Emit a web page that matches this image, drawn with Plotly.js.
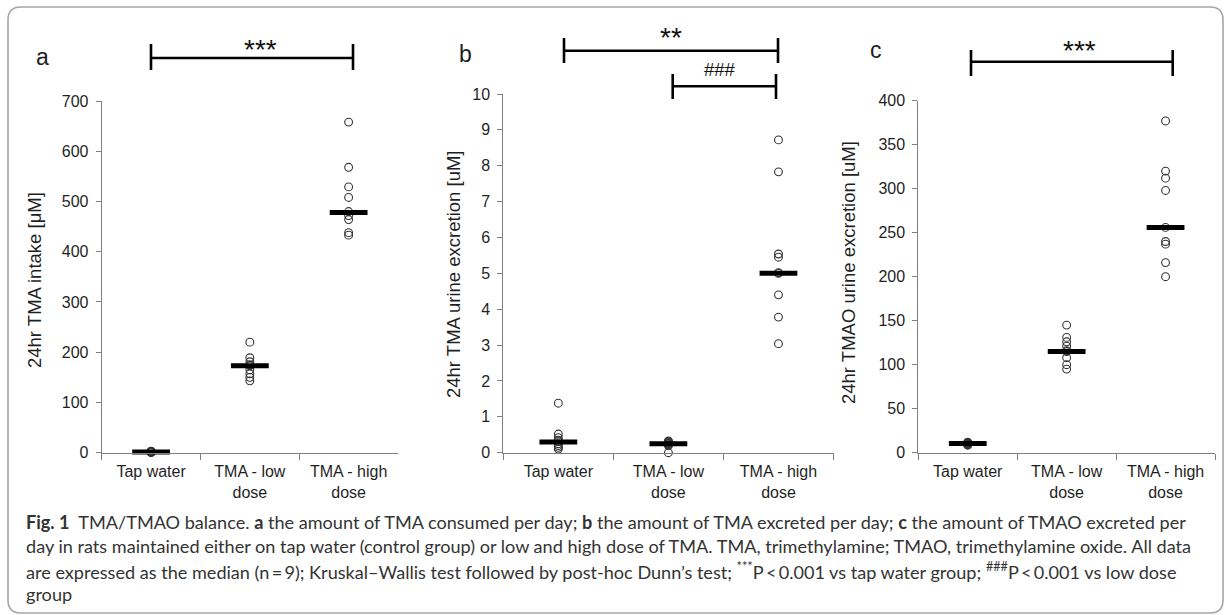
<!DOCTYPE html>
<html><head><meta charset="utf-8">
<script src="https://cdn.plot.ly/plotly-3.0.1.min.js"></script>
<style>html,body{margin:0;padding:0;background:#fff}#chart{width:1226px;height:615px}</style>
</head><body><div id="chart"></div>
<script>
// ---- data ----
const categories = ['Tap water', 'TMA - low dose', 'TMA - high dose'];
const tickLabels = ['Tap water', 'TMA - low<br>dose', 'TMA - high<br>dose'];

// panel a: 24hr TMA intake [µM]
const intakeTap  = [0.5, 0.8, 1, 1.2, 1.5, 1.8, 2, 2.5, 3];
const intakeLow  = [220, 189, 181, 175, 173, 165, 157, 150, 143];
const intakeHigh = [658, 568, 529, 508, 480, 472, 464, 438, 433];
const intakeMedian = [1.5, 173, 478];

// panel b: 24hr TMA urine excretion [uM]
const tmaUrineTap  = [1.38, 0.52, 0.42, 0.35, 0.31, 0.25, 0.2, 0.15, 0.1];
const tmaUrineLow  = [0.33, 0.31, 0.3, 0.28, 0.26, 0.25, 0.22, 0.2, 0.0];
const tmaUrineHigh = [8.72, 7.83, 5.54, 5.45, 5.02, 5.0, 4.4, 3.78, 3.04];
const tmaUrineMedian = [0.3, 0.25, 5.0];

// panel c: 24hr TMAO urine excretion [uM]
const tmaoUrineTap  = [12, 11.5, 11, 10.5, 10, 10, 9.5, 9, 8.5];
const tmaoUrineLow  = [145, 131, 126, 121, 116, 115, 108, 100, 95];
const tmaoUrineHigh = [377, 320, 312, 298, 256, 240, 237, 216, 200];
const tmaoUrineMedian = [10.5, 115, 256];

const panelLetters = ['a', 'b', 'c'];
const yTitles = ['24hr TMA intake [\u03bcM]', '24hr TMA urine excretion [uM]', '24hr TMAO urine excretion [uM]'];
const yRanges = [[0, 700], [0, 10], [0, 400]];
const yDticks = [100, 1, 50];

const captionLines = [
  '<b>Fig. 1</b>  TMA/TMAO balance. <b>a</b> the amount of TMA consumed per day; <b>b</b> the amount of TMA excreted per day; <b>c</b> the amount of TMAO excreted per',
  'day in rats maintained either on tap water (control group) or low and high dose of TMA. TMA, trimethylamine; TMAO, trimethylamine oxide. All data',
  'are expressed as the median (n\u2009=\u20099); Kruskal\u2013Wallis test followed by post-hoc Dunn\u2019s test; <sup>***</sup>P\u2009<\u20090.001 vs tap water group; <sup>###</sup>P\u2009<\u20090.001 vs low dose',
  'group'
];

// ---- layout helpers ----
const W = 1226, H = 615;
const px = v => v / W;
const py = v => 1 - v / H;

const AX = '#808080';
const TXT = '#1f1f1f';
const FONT = 'Liberation Sans, Arial, sans-serif';

const panels = [
  {groups: [intakeTap, intakeLow, intakeHigh], med: intakeMedian, xd: [101.7, 398], yd: [452.7, 101]},
  {groups: [tmaUrineTap, tmaUrineLow, tmaUrineHigh], med: tmaUrineMedian, xd: [503.3, 833.5], yd: [452.7, 94]},
  {groups: [tmaoUrineTap, tmaoUrineLow, tmaoUrineHigh], med: tmaoUrineMedian, xd: [918.3, 1215], yd: [452.7, 100.7]}
];

const traces = [];
const layout = {
  width: W, height: H, margin: {l: 0, r: 0, t: 0, b: 0},
  paper_bgcolor: '#fff', plot_bgcolor: 'rgba(0,0,0,0)',
  showlegend: false, font: {family: FONT, color: TXT},
  shapes: [], annotations: []
};

panels.forEach((p, i) => {
  const n = i === 0 ? '' : String(i + 1);
  const xa = 'x' + n, ya = 'y' + n;
  // points
  p.groups.forEach((vals, g) => {
    traces.push({
      type: 'scatter', mode: 'markers', xaxis: xa, yaxis: ya, cliponaxis: false,
      x: vals.map(() => categories[g]), y: vals,
      marker: {symbol: 'circle-open', size: 7.8, color: '#333', line: {width: 1.1, color: '#333'}},
      hoverinfo: 'y'
    });
  });
  // medians
  traces.push({
    type: 'scatter', mode: 'markers', xaxis: xa, yaxis: ya, cliponaxis: false,
    x: categories, y: p.med,
    marker: {symbol: 'line-ew', size: 27, color: '#000', line: {width: 5, color: '#000'}},
    hoverinfo: 'y'
  });
  layout['xaxis' + n] = {
    domain: [px(p.xd[0]), px(p.xd[1])], anchor: ya, type: 'category',
    categoryorder: 'array', categoryarray: categories,
    tickmode: 'array', tickvals: categories, ticktext: tickLabels,
    tickson: 'boundaries', ticks: 'outside', ticklen: 6, tickwidth: 1, tickcolor: AX,
    ticklabelstandoff: 4,
    showline: true, linecolor: AX, linewidth: 1, showgrid: false, zeroline: false,
    range: [-0.5, 2.5], tickfont: {family: FONT, size: 16, color: TXT}, fixedrange: true
  };
  layout['yaxis' + n] = {
    domain: [py(p.yd[0]), py(p.yd[1])], anchor: xa, range: yRanges[i], dtick: yDticks[i], tick0: 0,
    ticks: 'outside', ticklen: 5, tickwidth: 1, tickcolor: AX, ticklabelstandoff: 4,
    showline: true, linecolor: AX, linewidth: 1, showgrid: false, zeroline: false,
    tickfont: {family: FONT, size: 16, color: TXT}, fixedrange: true
  };
});

// y-axis titles
const yTitlePos = [[34, 280], [453, 275], [849, 273]];
yTitles.forEach((t, i) => {
  layout.annotations.push({xref: 'paper', yref: 'paper', x: px(yTitlePos[i][0]), y: py(yTitlePos[i][1]),
    text: t, textangle: -90, showarrow: false, xanchor: 'center', yanchor: 'middle',
    font: {family: FONT, size: 18.5, color: TXT}});
});

// panel letters
const letterPos = [[42, 57], [465, 54], [876, 50]];
panelLetters.forEach((t, i) => {
  layout.annotations.push({xref: 'paper', yref: 'paper', x: px(letterPos[i][0]), y: py(letterPos[i][1]),
    text: t, showarrow: false, xanchor: 'center', yanchor: 'middle',
    font: {family: FONT, size: 23, color: TXT}});
});

// significance brackets
const brackets = [
  {x0: 151, x1: 353, y: 58, c0: 44, c1: 70, label: '***', lx: 260, ly: 49, fs: 28},
  {x0: 564, x1: 778, y: 50.7, c0: 38, c1: 63, label: '**', lx: 671, ly: 38, fs: 28},
  {x0: 672.7, x1: 776, y: 86.3, c0: 74, c1: 99, label: '###', lx: 720, ly: 70, fs: 18.5},
  {x0: 971, x1: 1172.7, y: 61.7, c0: 50, c1: 76, label: '***', lx: 1079, ly: 51, fs: 28}
];
brackets.forEach(b => {
  const ln = {color: '#000', width: 2.6};
  layout.shapes.push({type: 'line', xref: 'paper', yref: 'paper', x0: px(b.x0), x1: px(b.x1), y0: py(b.y), y1: py(b.y), line: ln});
  layout.shapes.push({type: 'line', xref: 'paper', yref: 'paper', x0: px(b.x0), x1: px(b.x0), y0: py(b.c0), y1: py(b.c1), line: ln});
  layout.shapes.push({type: 'line', xref: 'paper', yref: 'paper', x0: px(b.x1), x1: px(b.x1), y0: py(b.c0), y1: py(b.c1), line: ln});
  layout.annotations.push({xref: 'paper', yref: 'paper', x: px(b.lx), y: py(b.ly), text: b.label, showarrow: false,
    xanchor: 'center', yanchor: 'middle', font: {family: FONT, size: b.fs, color: '#111'}});
});

// caption
const capY = [522, 546, 570, 594];
captionLines.forEach((t, i) => {
  layout.annotations.push({xref: 'paper', yref: 'paper', x: px(24), y: py(capY[i]), text: t, showarrow: false,
    xanchor: 'left', yanchor: 'middle', align: 'left',
    font: {family: 'Lato, Noto Sans, sans-serif', size: 18.1, color: '#333'}});
});

// rounded frame
(function () {
  const x0 = 8, y0 = 7, x1 = 1223, y1 = 613, r = 13;
  const P = (x, y) => px(x) + ',' + py(y);
  const path = 'M ' + P(x0 + r, y0) + ' L ' + P(x1 - r, y0) + ' Q ' + P(x1, y0) + ' ' + P(x1, y0 + r) +
    ' L ' + P(x1, y1 - r) + ' Q ' + P(x1, y1) + ' ' + P(x1 - r, y1) +
    ' L ' + P(x0 + r, y1) + ' Q ' + P(x0, y1) + ' ' + P(x0, y1 - r) +
    ' L ' + P(x0, y0 + r) + ' Q ' + P(x0, y0) + ' ' + P(x0 + r, y0) + ' Z';
  layout.shapes.push({type: 'path', xref: 'paper', yref: 'paper', path: path, line: {color: '#a6a6a6', width: 1.6}});
})();

Plotly.newPlot('chart', traces, layout, {displayModeBar: false, staticPlot: true});
</script>
</body></html>
